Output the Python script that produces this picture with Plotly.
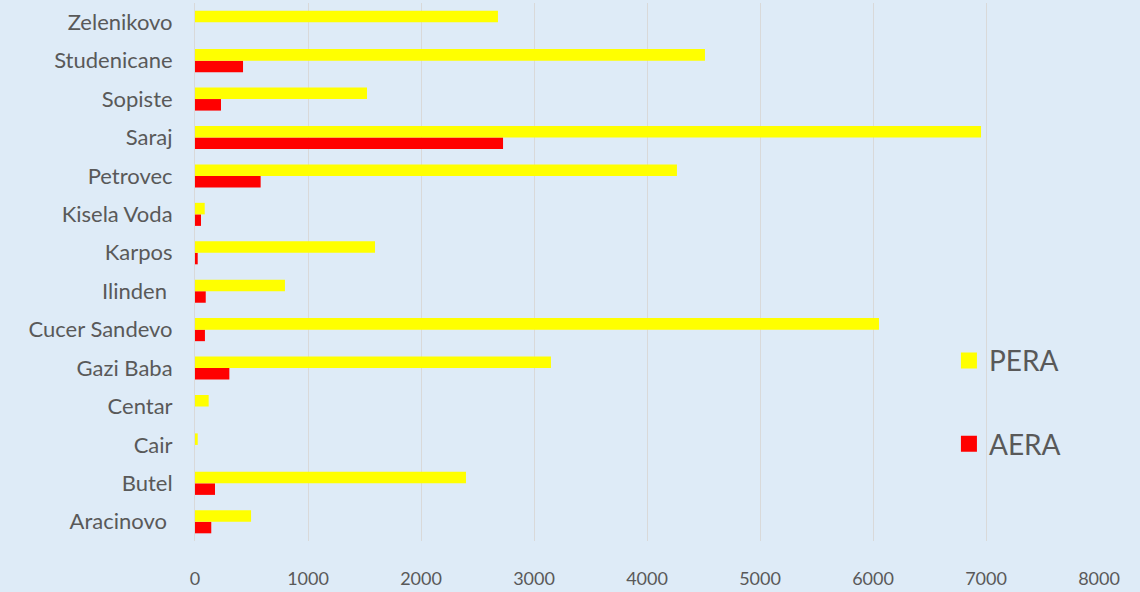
import plotly.graph_objects as go

categories = ["Aracinovo\u00a0", "Butel", "Cair", "Centar", "Gazi Baba", "Cucer Sandevo",
              "Ilinden\u00a0", "Karpos", "Kisela Voda", "Petrovec", "Saraj", "Sopiste",
              "Studenicane", "Zelenikovo"]
pera = [496, 2398, 24, 121, 3150, 6053, 796, 1593, 86, 4265, 6956, 1522, 4513, 2681]
aera = [144, 177, 0, 0, 304, 88, 95, 24, 53, 581, 2726, 230, 425, 0]
x_ticks = [0, 1000, 2000, 3000, 4000, 5000, 6000, 7000, 8000]

bg = "#DEEBF7"
txt = "#595959"
c_pera = "#FFFF00"
c_aera = "#FF0000"

fig = go.Figure()
fig.add_trace(go.Bar(y=categories, x=aera, name="AERA", orientation="h",
                     marker=dict(color=c_aera, line=dict(width=0)),
                     showlegend=False))
fig.add_trace(go.Bar(y=categories, x=pera, name="PERA", orientation="h",
                     marker=dict(color=c_pera, line=dict(width=0)),
                     showlegend=False))
# legend entries with larger square swatches
fig.add_trace(go.Scatter(x=[None], y=[None], mode="markers", name="PERA",
                         marker=dict(symbol="square", size=18, color=c_pera),
                         legendgroup="p", legendrank=1))
fig.add_trace(go.Scatter(x=[None], y=[None], mode="markers", name="AERA",
                         marker=dict(symbol="square", size=18, color=c_aera),
                         legendgroup="a", legendrank=2))

fig.update_layout(
    width=1140, height=592,
    paper_bgcolor=bg, plot_bgcolor=bg,
    margin=dict(l=195, r=41, t=3, b=51),
    barmode="group", bargap=0.4, bargroupgap=0,
    font=dict(family="Lato", color=txt),
    showlegend=True,
    legend=dict(x=0.834, y=0.258, xanchor="left", yanchor="middle",
                traceorder="grouped", tracegroupgap=44,
                font=dict(size=28, color=txt), bgcolor="rgba(0,0,0,0)"),
    xaxis=dict(range=[0, 8000], tickvals=x_ticks, showgrid=True,
               gridcolor="#D9D9D9", gridwidth=1, zeroline=False,
               showline=False, tickfont=dict(size=18, color=txt),
               ticklabelstandoff=25, fixedrange=True),
    yaxis=dict(categoryorder="array", categoryarray=categories,
               showgrid=False, showline=True, linecolor="#D9D9D9", linewidth=1,
               tickfont=dict(size=22, color=txt), ticklabelstandoff=17,
               fixedrange=True),
)

fig.write_html("out.html")
